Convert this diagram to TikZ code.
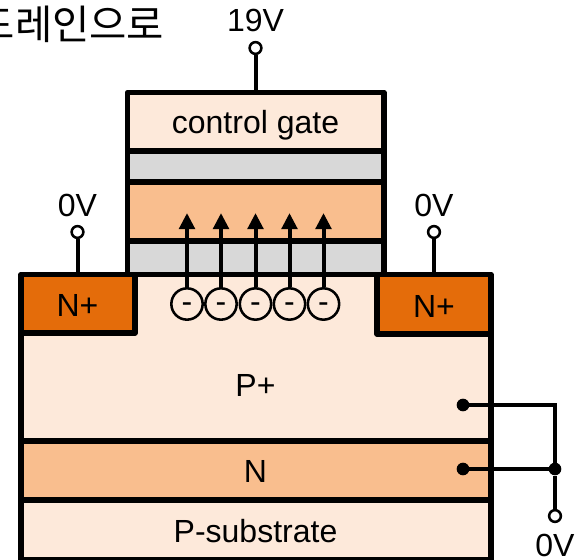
\documentclass[tikz,border=0pt]{standalone}
\usepackage{fontspec}
\setmainfont{Liberation Sans}
\newfontfamily\cjk{Noto Sans CJK KR}
\definecolor{pale}{HTML}{FDE9DA}
\definecolor{midor}{HTML}{F9BE8E}
\definecolor{darkor}{HTML}{E46C0A}
\definecolor{oxgray}{HTML}{D8D8D8}
\usetikzlibrary{arrows.meta}
\tikzset{
  lab/.style={font=\fontsize{24}{24}\selectfont,inner sep=0pt,text=black},
  thick box/.style={line width=4.2pt,line join=round},
  wire/.style={line width=3pt},
  thin wire/.style={line width=2.5pt},
  term/.style={circle,draw,fill=white,line width=1.9pt,minimum size=8.8pt,inner sep=0pt},
  dotn/.style={circle,fill=black,minimum size=9.5pt,inner sep=0pt},
  elec/.style={circle,draw,fill=pale,line width=1.9pt,minimum size=23.5pt,inner sep=0pt},
  up/.style={line width=3pt,-{Triangle[width=11.5pt,length=12pt]}},
}
\begin{document}
\begin{tikzpicture}[x=0.75pt,y=-0.75pt]
\useasboundingbox (0,0) rectangle (582,560);
% fills
\fill[pale] (21,275) rectangle (491,441);
\fill[midor] (21,441) rectangle (491,500);
\fill[pale] (21,500) rectangle (491,558);
\fill[pale] (127.5,92) rectangle (384,151);
\fill[oxgray] (127.5,151) rectangle (384,182);
\fill[midor] (127.5,182) rectangle (384,241);
\fill[oxgray] (127.5,241) rectangle (384,274);
\fill[darkor] (21,275) rectangle (135,333);
\fill[darkor] (377,275) rectangle (491,334);
% body outlines
\draw[thick box] (21,562) -- (21,274.5) -- (491,274.5) -- (491,562);
\draw[thick box] (21,441) -- (491,441);
\draw[thick box] (21,500) -- (491,500);
\draw[thick box] (21,333) -- (135,333) -- (135,274.5);
\draw[thick box] (377,274.5) -- (377,334) -- (491,334);
\draw[thick box] (21,560) -- (491,560);
% gate outlines
\draw[thick box] (127.5,274) -- (127.5,92.5) -- (384,92.5) -- (384,274);
\draw[thick box] (127.5,151) -- (384,151);
\draw[thick box] (127.5,182) -- (384,182);
\draw[thick box] (127.5,241) -- (384,241);
% terminals
\node[term] (tg) at (255.5,48) {};
\coordinate (gtop) at (255.5,92);
\draw[wire] (tg) -- (gtop);
\node[term] (ts) at (77.5,232) {};
\coordinate (stop) at (77.5,274);
\draw[wire] (ts) -- (stop);
\node[term] (td) at (434,232) {};
\coordinate (dtop) at (434,274);
\draw[wire] (td) -- (dtop);
\node[term] (tb) at (555,516) {};
\node[dotn] (d1) at (463,405) {};
\node[dotn] (d2) at (463,469) {};
\node[dotn] (j) at (555,469) {};
\coordinate (c) at (555,405);
\draw[thin wire,line join=miter] (d1.center) -- (c) -- (j.center);
\draw[thin wire] (d2.center) -- (j.center);
\draw[wire] (j) -- (tb);
% electrons and arrows
\foreach \i/\x in {1/187,2/221,3/255.5,4/289.5,5/323.5}{
  \node[elec] (e\i) at (\x,304) {\fontsize{24}{24}\selectfont\smash{\raisebox{-6.2pt}{-}}};
  \coordinate (a\i) at (\x,213);
  \draw[up] (e\i) -- (a\i);
}
% labels
\node[lab] (l19) at (255.5,20) {19V};
\node[lab] (l0a) at (77.5,205) {0V};
\node[lab] (l0b) at (434,205) {0V};
\node[lab] (l0c) at (555,545.5) {0V};
\node[lab] (cg) at (255.5,125) {control gate};
\node[lab] (np1) at (77.5,305) {N+};
\node[lab] (np2) at (434,306) {N+};
\node[lab] (pp) at (255.5,385) {P+};
\node[lab] (nn) at (255.5,471) {N};
\node[lab] (ps) at (255.5,531) {P-substrate};
\node[lab,anchor=east,font=\cjk\fontsize{30.4}{30.4}\selectfont] (kr) at (164.5,24) {드레인으로};
\end{tikzpicture}
\end{document}
